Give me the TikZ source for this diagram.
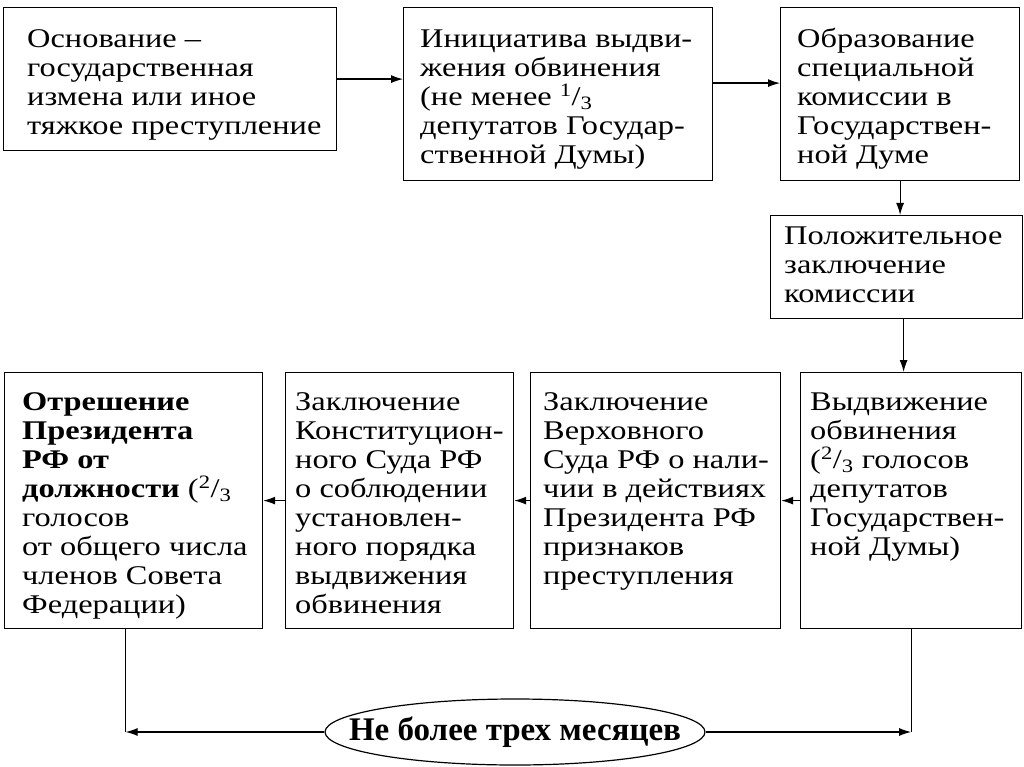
\documentclass[tikz,border=0pt]{standalone}
\usepackage{fontspec}
\setmainfont{Liberation Serif}[FakeStretch=1.2]
\newfontfamily\termfont{Liberation Serif}
\usetikzlibrary{positioning,shapes,arrows.meta,calc}
\tikzset{
  frame/.style={rectangle, draw, line width=1.2pt, anchor=north west, inner sep=0pt},
  txt/.style={align=left, inner sep=0pt, font=\fontsize{27}{29}\selectfont},
  link/.style={-{Latex[length=12pt,width=8pt]}, line width=1.2pt},
  plain/.style={line width=1.2pt}
}

\begin{document}
\begin{tikzpicture}[x=1pt,y=1pt]
            \useasboundingbox (0,0) rectangle (1024,-767);

            % Top row
            \node[frame, minimum width=333pt, minimum height=143pt] (osnov) at (3,-7) {};
            \node[frame, minimum width=309pt, minimum height=173pt] (init) at (403,-7) {};
            \node[frame, minimum width=239pt, minimum height=173pt] (komis) at (780,-7) {};
            \node[frame, minimum width=252pt, minimum height=103pt] (polozh) at (770,-215) {};

            \node[txt, below right=20pt and 24pt of osnov.north west] (osnovT) {\strut Основание –\\
                государственная\\
                измена или иное\\
                тяжкое преступление};
            \node[txt, below right=20pt and 17pt of init.north west] (initT) {\strut Инициатива выдви-\\
                жения обвинения\\
                (не менее \textsuperscript{1}/\textsubscript{3}\\
                депутатов Государ-\\
                ственной Думы)};
            \node[txt, below right=20pt and 17pt of komis.north west] (komisT) {\strut Образование\\
                специальной\\
                комиссии в\\
                Государствен-\\
                ной Думе};
            \node[txt, below right=9pt and 14pt of polozh.north west] (polozhT) {\strut Положительное\\
                заключение\\
                комиссии};

            % Bottom row
            \node[frame, minimum width=221pt, minimum height=256pt] (vydv) at (800,-372) {};
            \node[frame, minimum width=250pt, minimum height=256pt] (verkh) at (530,-372) {};
            \node[frame, minimum width=228pt, minimum height=256pt] (konst) at (285,-372) {};
            \node[frame, minimum width=258pt, minimum height=256pt] (otresh) at (4,-372) {};

            \node[txt, below right=18pt and 10pt of vydv.north west] (vydvT) {\strut Выдвижение\\
                обвинения\\
                (\textsuperscript{2}/\textsubscript{3} голосов\\
                депутатов\\
                Государствен-\\
                ной Думы)};
            \node[txt, below right=18pt and 13pt of verkh.north west] (verkhT) {\strut Заключение\\
                Верховного\\
                Суда РФ о нали-\\
                чии в действиях\\
                Президента РФ\\
                признаков\\
                преступления};
            \node[txt, below right=18pt and 10pt of konst.north west] (konstT) {\strut Заключение\\
                Конституцион-\\
                ного Суда РФ\\
                о соблюдении\\
                установлен-\\
                ного порядка\\
                выдвижения\\
                обвинения};
            \node[txt, below right=18pt and 18pt of otresh.north west] (otreshT) {\strut\textbf{Отрешение}\\
                \textbf{Президента}\\
                \textbf{РФ от}\\
                \textbf{должности} (\textsuperscript{2}/\textsubscript{3}\\
                голосов\\
                от общего числа\\
                членов Совета\\
                Федерации)};

            % Time limit
            \node[ellipse, draw, line width=1.2pt, inner xsep=-40pt, inner ysep=0pt,
                minimum width=380pt, minimum height=66pt,
                font=\termfont\fontsize{33}{38}\selectfont\bfseries] (term) at (515,-732) {Не более трех месяцев};

            \coordinate (lfoot) at ([xshift=-8pt]otresh.south);
            \coordinate (lcorner) at (lfoot |- term.west);
            \coordinate (rcorner) at (vydv.south |- term.east);

            \draw[link] (osnov.east) -- (osnov.east -| init.west);
            \draw[link] ([yshift=11pt]init.east) -- ([yshift=11pt]komis.west);
            \draw[link] (komis.south) -- (komis.south |- polozh.north);
            \draw[link] ([xshift=7pt]polozh.south) -- ([xshift=7pt]polozh.south |- vydv.north);
            \draw[link] (vydv.west) -- (verkh.east);
            \draw[link] (verkh.west) -- (konst.east);
            \draw[link] (konst.west) -- (otresh.east);
            \draw[plain] (lfoot) -- (lcorner);
            \draw[link] (term.west) -- (lcorner);
            \draw[plain] (vydv.south) -- (rcorner);
            \draw[link] (term.east) -- (rcorner);
        \end{tikzpicture}
\end{document}
